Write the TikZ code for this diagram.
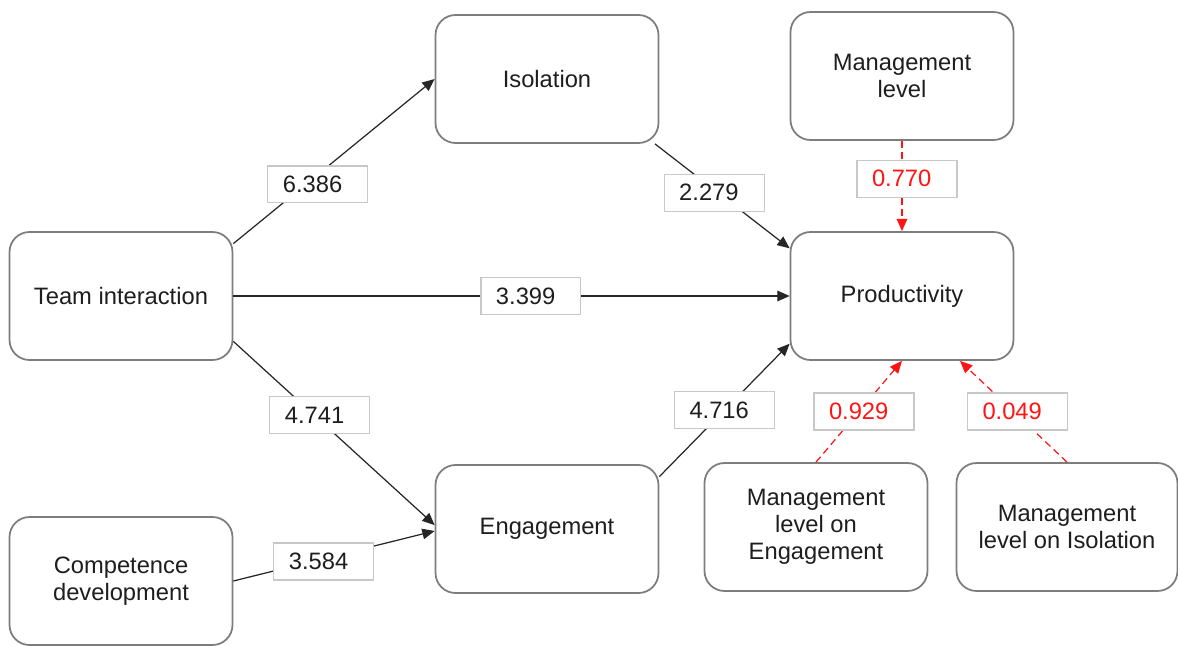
\documentclass[tikz,border=0pt]{standalone}
\usepackage{fontspec}
\setmainfont{Liberation Sans}
\usetikzlibrary{arrows.meta}
\definecolor{boxgray}{RGB}{125,125,125}
\definecolor{lablgray}{RGB}{200,200,200}
\definecolor{txt}{RGB}{30,30,30}
\definecolor{modred}{RGB}{255,20,20}
\begin{document}
\begin{tikzpicture}[x=0.02cm,y=-0.02cm,
  txtfont/.style={font=\fontsize{13.5}{15.5}\selectfont},
  box/.style={draw=boxgray, line width=1pt, rounded corners=0.4cm, minimum width=4.46cm, minimum height=2.56cm, align=center, txtfont, text=txt, fill=white, inner sep=2pt},
  val/.style={draw=lablgray, solid, line width=0.6pt, fill=white, minimum height=0.74cm, text width=1.4cm, inner xsep=0.3cm, inner ysep=0pt, align=left, txtfont, text=txt},
  redval/.style={val, text=modred},
  conn/.style={draw=black!85, line width=0.7pt, -{Triangle[length=7pt,width=6pt]}},
  modconn/.style={draw=modred, line width=0.7pt, dash pattern=on 4pt off 2.5pt, -{Triangle[length=7pt,width=6pt]}}
]
\useasboundingbox (0,0) rectangle (1178,646);

\node[box] (team) at (121,296) {Team interaction};
\node[box] (iso) at (547,79) {Isolation};
\node[box] (mgmt) at (902,76) {Management\\level};
\node[box] (prod) at (902,296) {Productivity};
\node[box] (eng) at (547,529) {Engagement};
\node[box] (comp) at (121,581) {Competence\\development};
\node[box] (mloe) at (816,527) {Management\\level on\\Engagement};
\node[box, minimum width=4.42cm] (mloi) at (1067,527) {Management\\level on Isolation};

\draw[conn] (team.25) -- node[val, pos=0.42, yshift=-0.2cm] (v1) {6.386} (iso.west);
\draw[conn] (iso.-31) -- node[val, pos=0.44, yshift=-0.06cm] (v2) {2.279} (prod.157);
\draw[conn] (team.east) -- node[val, pos=0.535] (v3) {3.399} (prod.west);
\draw[conn] (team.-22) -- node[val, pos=0.43, yshift=0.1cm] (v4) {4.741} (eng.178);
\draw[conn] (eng.25) -- node[val, pos=0.5] (v5) {4.716} (prod.203);
\draw[conn] (comp.east) -- node[val, pos=0.45, yshift=-0.06cm] (v6) {3.584} (eng.181);

\draw[modconn] (mgmt.south) -- node[redval, pos=0.42, xshift=0.1cm] (v7) {0.770} (prod.north);
\draw[modconn] (mloe.north) -- node[redval, pos=0.5, xshift=0.1cm] (v8) {0.929} (prod.south);
\draw[modconn] (mloi.north) -- node[redval, pos=0.5, xshift=0.08cm] (v9) {0.049} ([xshift=1.16cm]prod.south);
\end{tikzpicture}
\end{document}
